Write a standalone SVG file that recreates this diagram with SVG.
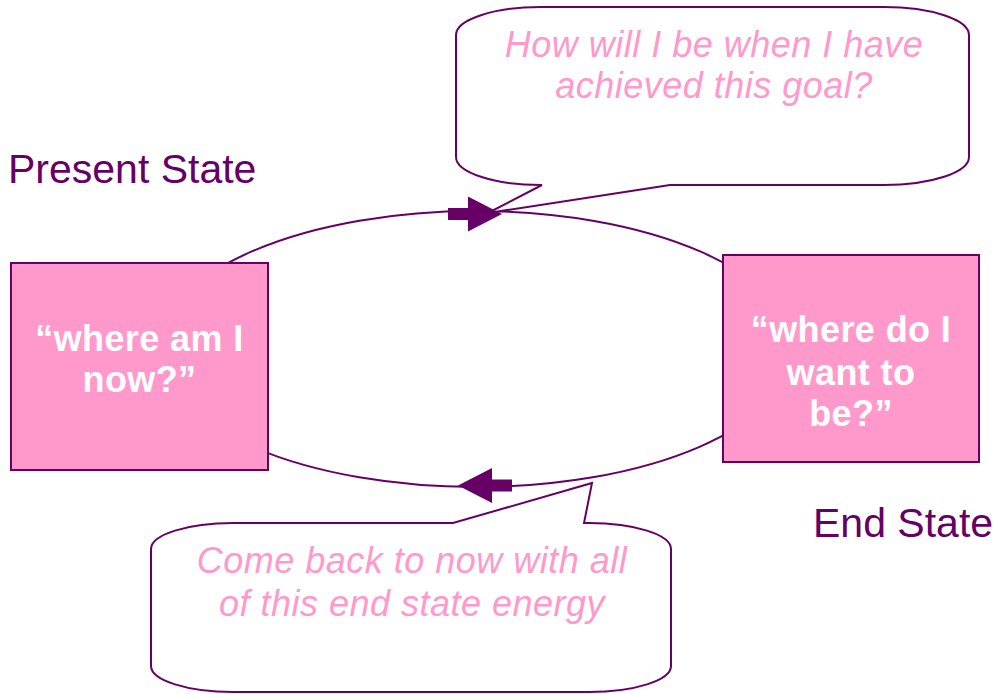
<svg xmlns="http://www.w3.org/2000/svg" width="996" height="694" viewBox="0 0 996 694">
<style>
.bg{fill:#ffffff}
.line{fill:none;stroke:#660066;stroke-width:2}
.box{fill:#ff99cc;stroke:#660066;stroke-width:2}
.callout{fill:#ffffff;stroke:#660066;stroke-width:2;stroke-linejoin:miter}
.arrow{fill:#660066}
.label{font-family:"Liberation Sans",Arial,sans-serif;font-size:41px;fill:#660066}
.boxtext{font-family:"Liberation Sans",Arial,sans-serif;font-size:36px;font-weight:bold;fill:#ffffff;text-anchor:middle;letter-spacing:0.4px}
.quote{font-family:"Liberation Sans",Arial,sans-serif;font-size:36px;font-style:italic;fill:#ff99cc;text-anchor:middle;letter-spacing:0.5px}
</style>
<defs>
<path id="blockArrow" d="M-54,-6 H-34 V-17.5 L0,0 L-34,17.5 V6 H-54 Z"/>
</defs>
<rect class="bg" x="0" y="0" width="996" height="694"/>
<g id="connectors">
<ellipse class="line" cx="476" cy="349" rx="317" ry="138"/>
<use href="#blockArrow" class="arrow" transform="translate(502,214)"/>
<use href="#blockArrow" class="arrow" transform="translate(458,485.5) rotate(180)"/>
</g>
<g id="present-box">
<rect class="box" x="11" y="263" width="257" height="207"/>
<text class="boxtext" x="139.5" y="351">“where am I</text>
<text class="boxtext" x="139.5" y="392">now?”</text>
</g>
<g id="end-box">
<rect class="box" x="723" y="255" width="256" height="207"/>
<text class="boxtext" x="851" y="342">“where do I</text>
<text class="boxtext" x="851" y="385">want to</text>
<text class="boxtext" x="851" y="426">be?”</text>
</g>
<g id="present-label">
<text class="label" x="8" y="183">Present State</text>
</g>
<g id="end-label">
<text class="label" x="813" y="537">End State</text>
</g>
<g id="top-callout">
<path class="callout" d="M541,7 H884 A85 28 0 0 1 969,35 V157 A85 28 0 0 1 884,185 H670 L488,213 L542,185 H541 A85 28 0 0 1 456,157 V35 A85 28 0 0 1 541,7 Z"/>
<text class="quote" x="714" y="57">How will I be when I have</text>
<text class="quote" x="714" y="98">achieved this goal?</text>
</g>
<g id="bottom-callout">
<path class="callout" d="M233,523 H453 L592,483 L584,523 H589 A82 26 0 0 1 671,549 V666 A82 26 0 0 1 589,692 H233 A82 26 0 0 1 151,666 V549 A82 26 0 0 1 233,523 Z"/>
<text class="quote" x="412" y="573">Come back to now with all</text>
<text class="quote" x="412" y="616">of this end state energy</text>
</g>
</svg>
